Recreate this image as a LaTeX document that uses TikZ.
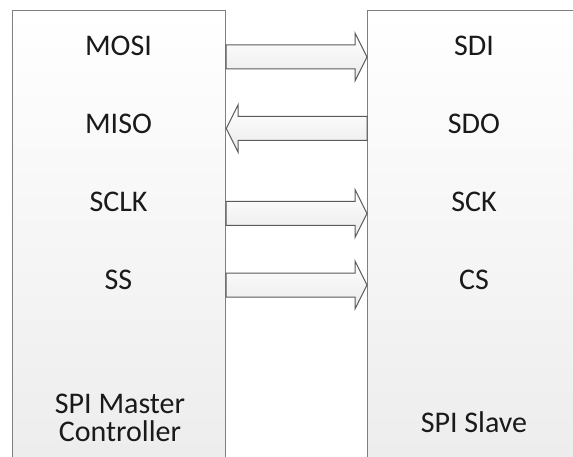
\documentclass[tikz,border=0pt]{standalone}
\usepackage{fontspec}
\setmainfont{Carlito}
\usetikzlibrary{calc}

\definecolor{boxline}{HTML}{7F7F7F}
\definecolor{boxfill}{HTML}{ECECEC}
\definecolor{arrowline}{HTML}{5A5A5A}
\definecolor{arrowfill}{HTML}{EAEAEA}
\definecolor{labeltext}{HTML}{1A1A1A}

\tikzset{
  box/.style={rectangle, draw=boxline, line width=1.2pt, top color=white,
    bottom color=boxfill, inner sep=0pt, minimum width=213pt,
    minimum height=470pt, anchor=north west},
  fatarrow/.style={draw=arrowline, line width=1pt, top color=white,
    bottom color=arrowfill, line join=miter},
  lbl/.style={font=\fontsize{30}{28}\selectfont, text=labeltext,
    anchor=base, inner sep=0pt, align=center},
}

% block arrow from #1 to #2: shaft 24 wide, head 48 wide and 12 long
\newcommand\fatarrow[2]{%
  \path[fatarrow]
    ($(#1)+(0,-12)$) -- ($(#2)!12pt!(#1)+(0,-12)$)
    -- ($(#2)!12pt!(#1)+(0,-24)$) -- (#2)
    -- ($(#2)!12pt!(#1)+(0,24)$) -- ($(#2)!12pt!(#1)+(0,12)$)
    -- ($(#1)+(0,12)$) -- cycle;}

\begin{document}
\begin{tikzpicture}[x=1pt,y=-1pt]
\useasboundingbox (0,0) rectangle (573,457);
\clip (0,0) rectangle (573,457);

% the two devices
\node[box] (master) at (12,10) {};
\node[box] (slave) at (367,10) {};

% signal names, master side
\node[lbl] (mosi) at (118.5,55.5) {MOSI};
\node[lbl] (miso) at (118.5,134) {MISO};
\node[lbl] (sclk) at (118.5,211.5) {SCLK};
\node[lbl] (ss) at (118.5,289.5) {SS};
% base anchor of a two-line node sits on its last line
\node[lbl] (mname) at (120,441.5) {SPI Master\\Controller};

% signal names, slave side
\node[lbl] (sdi) at (474,55.5) {SDI};
\node[lbl] (sdo) at (474,134) {SDO};
\node[lbl] (sck) at (474,211.5) {SCK};
\node[lbl] (cs) at (474,289.5) {CS};
\node[lbl] (sname) at (474,432) {SPI Slave};

% arrow end points on the box edges
\coordinate (mosiP) at (master.east |- 0,57);
\coordinate (sdiP) at (slave.west |- 0,57);
\coordinate (misoP) at (master.east |- 0,128.5);
\coordinate (sdoP) at (slave.west |- 0,128.5);
\coordinate (sclkP) at (master.east |- 0,213.5);
\coordinate (sckP) at (slave.west |- 0,213.5);
\coordinate (ssP) at (master.east |- 0,285);
\coordinate (csP) at (slave.west |- 0,285);

% signal arrows
\fatarrow{mosiP}{sdiP}
\fatarrow{sdoP}{misoP}
\fatarrow{sclkP}{sckP}
\fatarrow{ssP}{csP}
\end{tikzpicture}
\end{document}
